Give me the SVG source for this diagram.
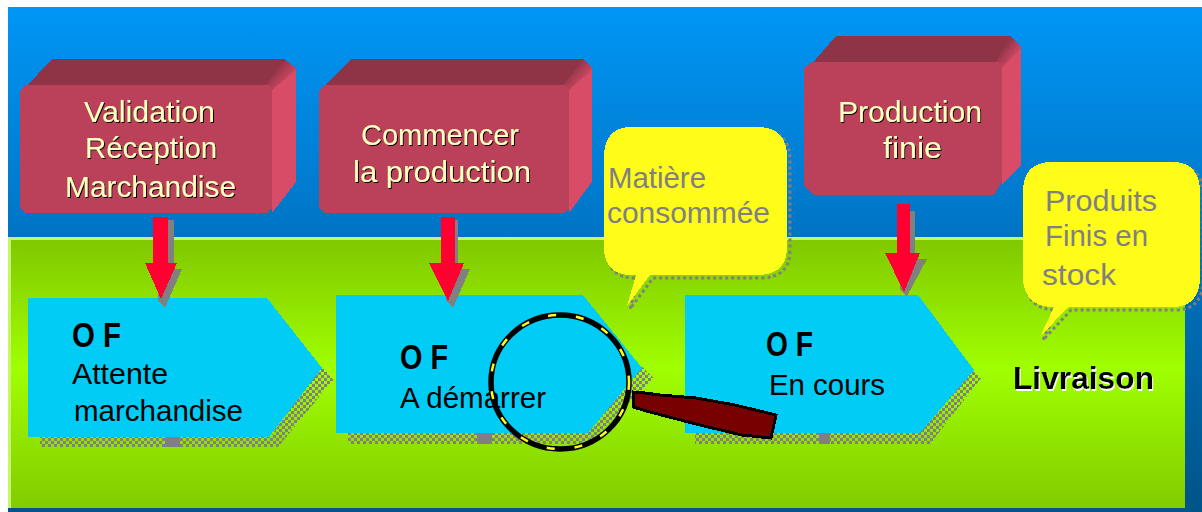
<svg xmlns="http://www.w3.org/2000/svg" width="1202" height="512" viewBox="0 0 1202 512">
<style>
text{font-family:"Liberation Sans",Arial,sans-serif}
.shape{shape-rendering:crispEdges}
.front{fill:#bb4059}
.top{fill:#8f3347}
.side{fill:#d84c68}
.blend{fill:url(#blend)}
.boxtxt{font-size:30px;fill:#ffffc0;filter:url(#blackShadow)}
.pent{fill:#00ccf5}
.dither{fill:url(#dither)}
.block{fill:#808080}
.oftitle{font-size:35px;font-weight:bold;fill:#000}
.oftxt{font-size:30px;fill:#000}
.bubble{fill:#fffc1a}
.bubshadow{fill:none;stroke:#808080;stroke-width:3;stroke-dasharray:3 3}
.bubtxt{font-size:30px;fill:#808080}
.arrow{fill:#ff0030}
.arrowsh{fill:#808080}
</style>
<defs>
<linearGradient id="sky" gradientUnits="userSpaceOnUse" x1="0" y1="7" x2="0" y2="512">
<stop offset="0" stop-color="#0096f5"/><stop offset="0.455" stop-color="#0074c4"/><stop offset="1" stop-color="#005488"/>
</linearGradient>
<linearGradient id="grass" gradientUnits="userSpaceOnUse" x1="0" y1="240" x2="0" y2="508">
<stop offset="0" stop-color="#80c800"/><stop offset="0.48" stop-color="#a0ff00"/><stop offset="1" stop-color="#82cc00"/>
</linearGradient>
<linearGradient id="blend" x1="0" y1="0" x2="1" y2="1">
<stop offset="0.3" stop-color="#8f3347"/><stop offset="0.75" stop-color="#d84c68"/>
</linearGradient>
<pattern id="dither" patternUnits="userSpaceOnUse" width="6" height="6">
<rect x="0" y="0" width="3" height="3" fill="#808080"/><rect x="3" y="3" width="3" height="3" fill="#808080"/>
</pattern>
<filter id="blackShadow" x="-5%" y="-10%" width="110%" height="120%"><feDropShadow dx="1" dy="1" stdDeviation="0" flood-color="#000"/></filter>
<filter id="whiteShadow" x="-5%" y="-10%" width="110%" height="125%"><feDropShadow dx="1" dy="2" stdDeviation="0.3" flood-color="#fff"/></filter>
</defs>

<g id="background" class="shape">
<rect x="8" y="7" width="1194" height="505" fill="url(#sky)"/>
<rect x="8" y="237" width="1177" height="271" fill="#c8f56e"/>
<rect x="11" y="240" width="1174" height="268" fill="url(#grass)"/>
</g>

<g id="box-validation" class="shape">
<path class="top" d="M25 88L52 59H284L296 68L272 90Z"/>
<path class="blend" d="M266 85L284 59L296 68V80L272 92Z"/>
<path class="side" d="M272 90L296 70V182L272 213Z"/>
<path class="front" d="M25 85H268L272 89V208L267 213H25L20 208V92Z"/>
<text class="boxtxt" x="84" y="122" textLength="131" lengthAdjust="spacingAndGlyphs">Validation</text>
<text class="boxtxt" x="85" y="158" textLength="132" lengthAdjust="spacingAndGlyphs">Réception</text>
<text class="boxtxt" x="65" y="197" textLength="171" lengthAdjust="spacingAndGlyphs">Marchandise</text>
</g>
<g id="box-commencer" class="shape">
<path class="top" d="M323 88L351 59H583L592 68L569 90Z"/>
<path class="blend" d="M563 85L583 59L592 68V80L569 92Z"/>
<path class="side" d="M569 90L592 70V182L569 213Z"/>
<path class="front" d="M324 85H565L569 89V208L564 213H324L319 208V92Z"/>
<text class="boxtxt" x="361" y="145" textLength="158" lengthAdjust="spacingAndGlyphs">Commencer</text>
<text class="boxtxt" x="353" y="182" textLength="178" lengthAdjust="spacingAndGlyphs">la production</text>
</g>
<g id="box-production" class="shape">
<path class="top" d="M810 66L836 36H1010L1021 46L1002 67Z"/>
<path class="blend" d="M996 62L1010 36L1021 46V58L1002 70Z"/>
<path class="side" d="M1002 67L1021 48V165L1002 185Z"/>
<path class="front" d="M812 62H998L1002 66V182L994 195H814L804 186V68Z"/>
<text class="boxtxt" x="838" y="122" textLength="144" lengthAdjust="spacingAndGlyphs">Production</text>
<text class="boxtxt" x="883" y="158" textLength="59" lengthAdjust="spacingAndGlyphs">finie</text>
</g>

<g id="of-attente">
<g class="shape">
<path class="dither" d="M40 437V447H278L333 380L321 366L270 437Z"/>
<rect class="block" x="165" y="437" width="15" height="10"/>
<path class="pent" d="M28 298H267L322 368L269 437H28Z"/>
</g>
<text class="oftitle" x="72" y="347" textLength="49" lengthAdjust="spacingAndGlyphs">O F</text>
<text class="oftxt" x="72" y="384" textLength="96" lengthAdjust="spacingAndGlyphs">Attente</text>
<text class="oftxt" x="74" y="421" textLength="169" lengthAdjust="spacingAndGlyphs">marchandise</text>
</g>
<g id="of-demarrer">
<g class="shape">
<path class="dither" d="M348 433V444H590L653 378L641 366L588 433Z"/>
<rect class="block" x="477" y="433" width="15" height="11"/>
<path class="pent" d="M336 295H583L642 368L588 433H336Z"/>
</g>
<text class="oftitle" x="400" y="369" textLength="48" lengthAdjust="spacingAndGlyphs">O F</text>
<text class="oftxt" x="400" y="408" textLength="146" lengthAdjust="spacingAndGlyphs">A démarrer</text>
</g>
<g id="of-encours">
<g class="shape">
<path class="dither" d="M695 433V444H930L981 378L971 368L920 433Z"/>
<rect class="block" x="819" y="433" width="11" height="11"/>
<path class="pent" d="M685 295H918L974 370L920 433H685Z"/>
</g>
<text class="oftitle" x="766" y="356" textLength="47" lengthAdjust="spacingAndGlyphs">O F</text>
<text class="oftxt" x="769" y="395" textLength="116" lengthAdjust="spacingAndGlyphs">En cours</text>
</g>
<g id="livraison">
<text x="1013" y="389" textLength="141" lengthAdjust="spacingAndGlyphs" font-size="32" font-weight="bold" fill="#000" filter="url(#whiteShadow)">Livraison</text>
</g>

<g id="bubble-matiere">
<path class="bubshadow" d="M635 130H760Q790 130 790 160V250Q790 278 760 278H653L630 309L639 278H635Q607 278 607 250V160Q607 130 635 130Z"/>
<path class="bubble shape" d="M632 127H757Q787 127 787 157V247Q787 275 757 275H650L627 306L636 275H632Q604 275 604 247V157Q604 127 632 127Z"/>
<text class="bubtxt" x="608" y="188" textLength="98" lengthAdjust="spacingAndGlyphs">Matière</text>
<text class="bubtxt" x="607" y="223" textLength="163" lengthAdjust="spacingAndGlyphs">consommée</text>
</g>
<g id="bubble-produits">
<path class="bubshadow" d="M1055 165H1175Q1203 165 1203 195V280Q1203 310 1175 310H1071L1043 340L1057 310Q1026 310 1026 280V195Q1026 165 1055 165Z"/>
<path class="bubble shape" d="M1052 162H1172Q1200 162 1200 192V277Q1200 307 1172 307H1068L1040 337L1054 307Q1023 307 1023 277V192Q1023 162 1052 162Z"/>
<text class="bubtxt" x="1045" y="211" textLength="112" lengthAdjust="spacingAndGlyphs">Produits</text>
<text class="bubtxt" x="1045" y="246" textLength="103" lengthAdjust="spacingAndGlyphs">Finis en</text>
<text class="bubtxt" x="1042" y="285" textLength="74" lengthAdjust="spacingAndGlyphs">stock</text>
</g>

<g id="connectors" class="shape">
<path class="arrowsh" d="M160 220H174V269H182L165 308L158 300Z"/>
<path class="arrow" d="M153 217H168V263H177L161 299L145 263H153Z"/>
<path class="arrowsh" d="M450 220H458V269H470L453 308L446 300Z"/>
<path class="arrow" d="M441 217H455V263H464L448 301L429 263H441Z"/>
<path class="arrowsh" d="M905 211H915V259H927L907 296L900 290Z"/>
<path class="arrow" d="M897 204H910V253H920L904 292L885 253H897Z"/>
</g>

<g id="magnifier">
<ellipse cx="560" cy="382" rx="69" ry="67" fill="none" stroke="#000" stroke-width="5.5"/>
<ellipse cx="560" cy="382" rx="69" ry="67" fill="none" stroke="#fffc1a" stroke-width="2.5" stroke-dasharray="8 20"/>
<path class="shape" d="M633 392L645 393L660 395L696 398L735 405L776 415L771 438L742 435L700 425L673 418L650 412L633 407Z" fill="#780000" stroke="#000" stroke-width="3"/>
</g>
</svg>
